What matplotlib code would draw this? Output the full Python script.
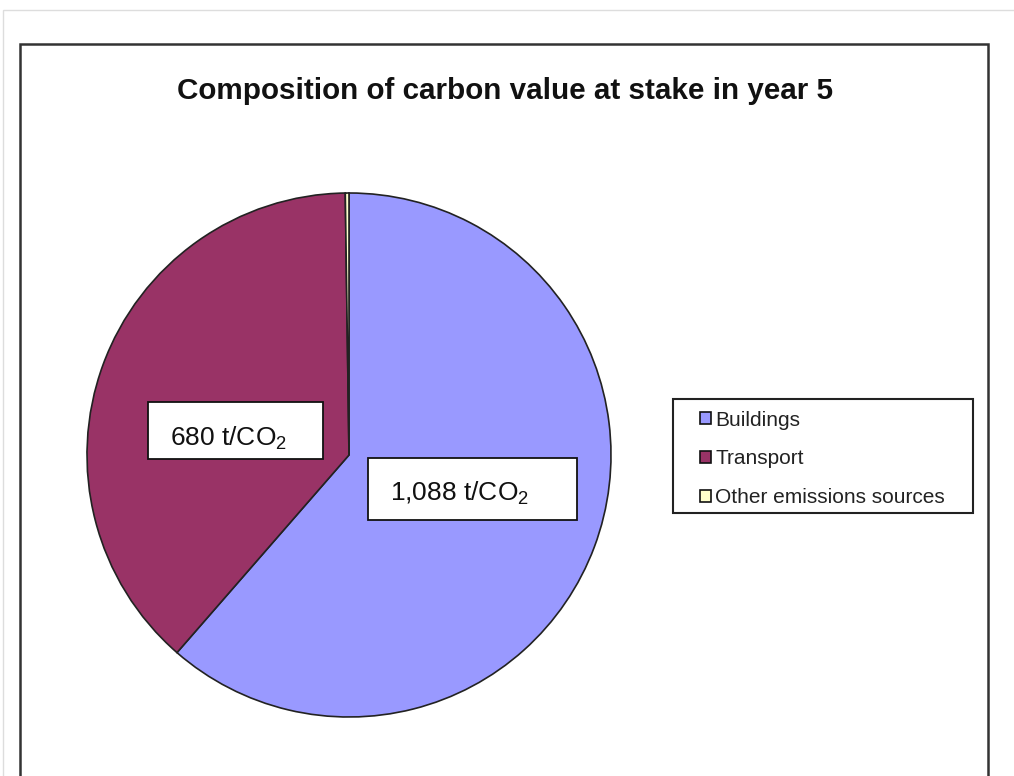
import matplotlib
matplotlib.use("Agg")
from matplotlib import pyplot as plt
from matplotlib.patches import Rectangle

plt.rcParams['font.family'] = ['Liberation Sans', 'DejaVu Sans']
plt.rcParams['mathtext.fontset'] = 'custom'
plt.rcParams['mathtext.rm'] = 'Liberation Sans'
plt.rcParams['mathtext.default'] = 'regular'

categories = ['Buildings', 'Transport', 'Other emissions sources']
values = [1088, 680, 4]
colors = ['#9999FF', '#993366', '#FFFFCC']

W, H = 1014, 776
fig = plt.figure(figsize=(W / 100, H / 100), dpi=100)

def fx(x):
    return x / W

def fy(y):
    return 1 - y / H

# outer faint frame and chart area frame
fig.patches.append(Rectangle((fx(3), fy(800)), fx(1020) - fx(3), fy(10) - fy(800),
                             transform=fig.transFigure, fill=False, edgecolor='#dddddd', lw=1))
fig.patches.append(Rectangle((fx(20), fy(800)), fx(988) - fx(20), fy(44) - fy(800),
                             transform=fig.transFigure, fill=False, edgecolor='#333333', lw=1.8))

fig.text(fx(505), fy(91), 'Composition of carbon value at stake in year 5',
         ha='center', va='center', fontsize=21.3, fontweight='bold', color='#111111')

# pie
cx, cy, r = 349, 455, 262
ax = fig.add_axes([fx(cx - r), fy(cy + r), 2 * r / W, 2 * r / H])
wedges, _ = ax.pie(values, colors=colors, startangle=90, counterclock=False,
                   wedgeprops=dict(edgecolor='#222222', linewidth=1.2))
ax.set_xlim(-1, 1)
ax.set_ylim(-1, 1)
ax.set_aspect('equal')
ax.axis('off')

# data labels in boxes: box x0, y0, x1, y1, text x, text y
label_boxes = [(368, 458, 577, 520, 390, 493), (148, 402, 323, 459, 170, 438)]
for (x0, y0, x1, y1, tx, ty), v in zip(label_boxes, values[:2]):
    fig.patches.append(Rectangle((fx(x0), fy(y1)), fx(x1) - fx(x0), fy(y0) - fy(y1),
                                 transform=fig.transFigure, facecolor='white',
                                 edgecolor='#111111', lw=1.3, zorder=5))
    fig.text(fx(tx), fy(ty), f'{v:,} t/CO$_2$', ha='left', va='center',
             fontsize=19, color='#111111', zorder=6)

# legend box
fig.patches.append(Rectangle((fx(673), fy(513)), fx(973) - fx(673), fy(399) - fy(513),
                             transform=fig.transFigure, facecolor='white',
                             edgecolor='#222222', lw=1.5, zorder=4))
leg = fig.legend(wedges, categories, loc='upper left',
                 bbox_to_anchor=(fx(685), fy(396)), frameon=False,
                 fontsize=15, handlelength=0.55, handleheight=0.55, handletextpad=0.2,
                 labelspacing=0.95, borderpad=0.2)
leg.set_zorder(6)
for h in leg.legend_handles:
    h.set_edgecolor('#111111')
    h.set_linewidth(1.2)
for t in leg.get_texts():
    t.set_color('#222222')

fig.savefig('out.png', dpi=100)
